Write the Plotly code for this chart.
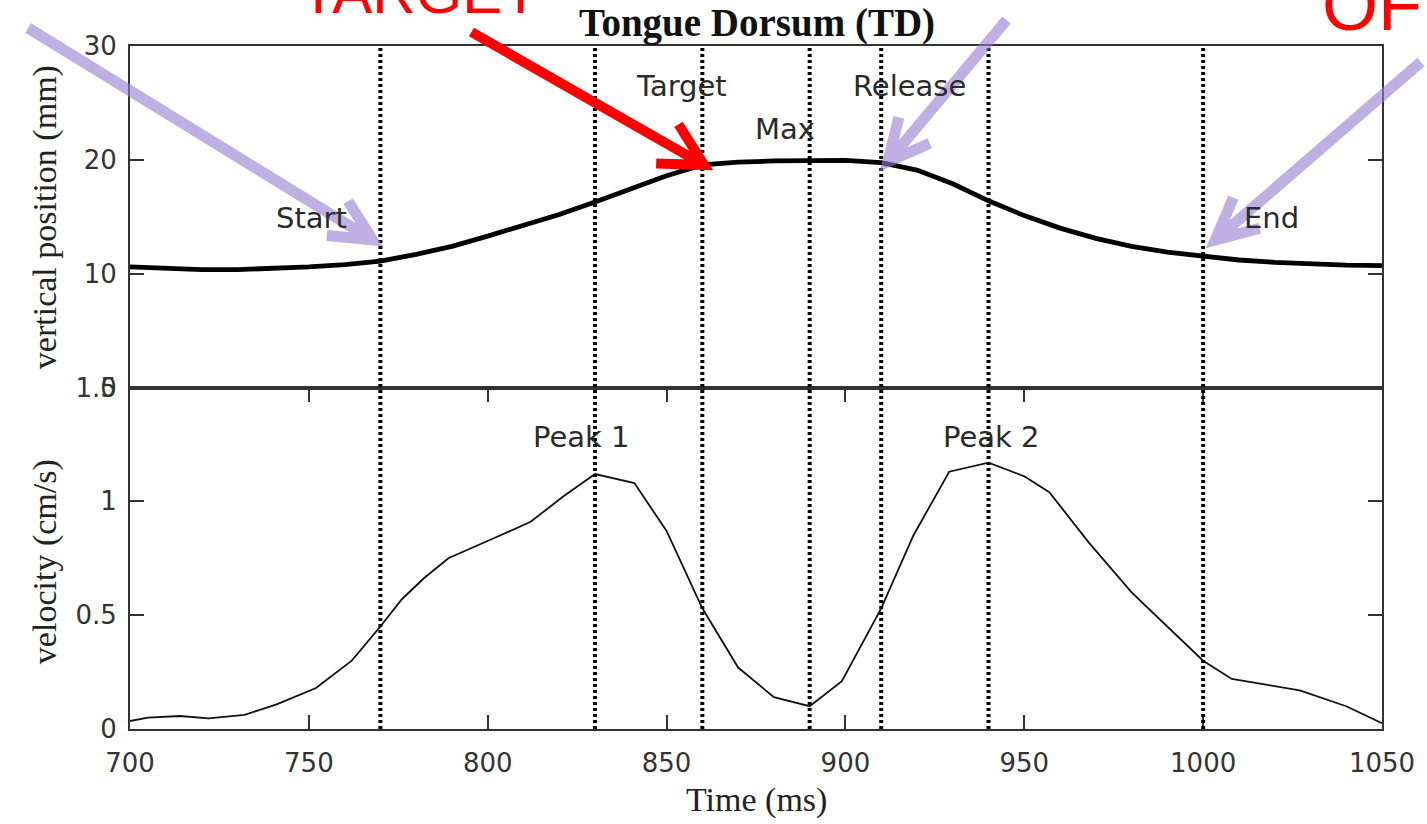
import math
import plotly.graph_objects as go
from plotly.subplots import make_subplots

# ---- data -------------------------------------------------------------
time_pos = [700, 710, 720, 730, 740, 750, 760, 770, 780, 790, 800, 810, 820,
            830, 840, 850, 860, 870, 880, 890, 900, 910, 920, 930, 940, 950,
            960, 970, 980, 990, 1000, 1010, 1020, 1030, 1040, 1050]
position_mm = [10.6, 10.45, 10.35, 10.35, 10.45, 10.6, 10.8, 11.1, 11.7, 12.4,
               13.3, 14.2, 15.2, 16.3, 17.4, 18.6, 19.55, 19.8, 19.9, 19.95,
               19.95, 19.75, 19.1, 17.9, 16.4, 15.1, 14.0, 13.1, 12.4, 11.9,
               11.5, 11.2, 11.0, 10.85, 10.75, 10.7]

time_vel = [700, 705, 714, 722, 732, 741, 752, 762, 770, 776, 782, 789, 802,
            812, 821, 830, 841, 850, 860, 870, 880, 890, 899, 910, 919, 929,
            940, 950, 957, 968, 980, 990, 1000, 1008, 1027, 1040, 1050]
velocity_cms = [0.035, 0.05, 0.057, 0.047, 0.062, 0.108, 0.18, 0.30, 0.45,
                0.57, 0.66, 0.75, 0.84, 0.91, 1.02, 1.12, 1.08, 0.87, 0.53,
                0.27, 0.14, 0.10, 0.21, 0.53, 0.85, 1.13, 1.17, 1.11, 1.04,
                0.82, 0.60, 0.45, 0.30, 0.22, 0.17, 0.10, 0.025]

event_times = [770, 830, 860, 890, 910, 940, 1000]

x_ticks = [700, 750, 800, 850, 900, 950, 1000, 1050]
pos_ticks = [0, 10, 20, 30]
vel_ticks = [0, 0.5, 1, 1.5]
vel_tick_text = ["0", "0.5", "1", "1.5"]

pos_event_labels = ["Start", "Target", "Max", "Release", "End"]
vel_event_labels = ["Peak 1", "Peak 2"]

# ---- page geometry (pixels) ------------------------------------------
W, H = 1427, 824
L, R, T, B = 130, 1384, 46, 729


def px(x):
    return (x - L) / (R - L)


def py(y):
    return (B - y) / (B - T)


def arrow_path(tail, tip, arm, spread):
    ang = math.atan2(tip[1] - tail[1], tip[0] - tail[0]) + math.pi
    pts = []
    for s in (spread, -spread):
        a = ang + math.radians(s)
        pts.append((tip[0] + arm * math.cos(a), tip[1] + arm * math.sin(a)))

    def p(pt):
        return f"{px(pt[0]):.5f},{py(pt[1]):.5f}"

    return (f"M{p(tail)} L{p(tip)} M{p(pts[0])} L{p(tip)} L{p(pts[1])}")


fig = make_subplots(rows=2, cols=1, shared_xaxes=True, vertical_spacing=0)

fig.add_trace(go.Scatter(x=time_pos, y=position_mm, mode="lines",
                         line=dict(color="#000000", width=4.8),
                         showlegend=False, hoverinfo="skip"), row=1, col=1)
fig.add_trace(go.Scatter(x=time_vel, y=velocity_cms, mode="lines",
                         line=dict(color="#111111", width=1.8),
                         showlegend=False, hoverinfo="skip"), row=2, col=1)

tick_font = dict(family="DejaVu Sans", size=26, color="#333333")
axis_common = dict(showline=True, linecolor="#333333", linewidth=2,
                   mirror=True, showgrid=False, zeroline=False,
                   tickcolor="#333333", tickwidth=2, ticklen=14,
                   tickfont=tick_font)

fig.update_xaxes(range=[700, 1050], **axis_common)
fig.update_xaxes(row=1, col=1, ticks="", showticklabels=False)
fig.update_xaxes(row=2, col=1, ticks="inside", mirror="ticks",
                 tickvals=x_ticks, ticklabelstandoff=10)
fig.update_yaxes(**axis_common)
fig.update_yaxes(row=1, col=1, range=[0, 30], tickvals=pos_ticks,
                 ticks="inside", mirror="ticks", ticklabelstandoff=6)
fig.update_yaxes(row=2, col=1, range=[0, 1.5], tickvals=vel_ticks,
                 ticktext=vel_tick_text, ticks="inside", mirror="ticks",
                 ticklabelstandoff=6)

# event markers: dotted verticals through both panels
for t in event_times:
    fig.add_shape(type="line", xref="x2", yref="paper", x0=t, x1=t, y0=0,
                  y1=1, line=dict(color="#000000", width=4,
                                  dash="3px,3px"), layer="above")

label_font = dict(family="DejaVu Sans", size=29, color="#2a2a2a")
pos_label_xy = [(750.8, 14.9), (854.3, 26.5), (883.1, 22.7), (918.0, 26.5),
                (1019.0, 14.9)]
for txt, (lx, ly) in zip(pos_event_labels, pos_label_xy):
    fig.add_annotation(x=lx, y=ly, xref="x", yref="y", text=txt,
                       showarrow=False, font=label_font)
vel_label_xy = [(826.2, 1.284), (940.9, 1.284)]
for txt, (lx, ly) in zip(vel_event_labels, vel_label_xy):
    fig.add_annotation(x=lx, y=ly, xref="x2", yref="y2", text=txt,
                       showarrow=False, font=label_font)


def paper_text(x, y, text, font, angle=0, xanchor="center",
               yanchor="middle"):
    fig.add_annotation(x=px(x), y=py(y), xref="paper", yref="paper",
                       xanchor=xanchor, yanchor=yanchor, text=text,
                       textangle=angle, showarrow=False, font=font)


# titles
serif = "Liberation Serif"
paper_text(758, 23, "<b>Tongue Dorsum (TD)</b>",
           dict(family=serif, size=39, color="#111111"))
paper_text(758, 800, "Time (ms)",
           dict(family=serif, size=34, color="#222222"))
paper_text(45, 217, "vertical position (mm)",
           dict(family=serif, size=34, color="#222222"), angle=-90)
paper_text(45, 562, "velocity (cm/s)",
           dict(family=serif, size=34, color="#222222"), angle=-90)

# red call-outs
paper_text(420, 28, "TARGET",
           dict(family="Liberation Sans", size=60, color="#ff0000"),
           yanchor="bottom")
paper_text(1322, 47, "OFFSET",
           dict(family="Liberation Sans", size=72, color="#ff0000"),
           xanchor="left", yanchor="bottom")

# pointer arrows
fig.add_shape(type="path", xref="paper", yref="paper",
              path=arrow_path((472, 32), (705, 165), 48, 28),
              line=dict(color="#ff0000", width=10), layer="above")
for tail, tip in [((28, 28), (373, 240)), ((1008, 20), (889, 162)),
                  ((1423, 62), (1217, 240))]:
    fig.add_shape(type="path", xref="paper", yref="paper",
                  path=arrow_path(tail, tip, 46, 26),
                  line=dict(color="rgb(150,125,210)", width=11),
                  opacity=0.6, layer="above")

fig.update_layout(width=W, height=H, plot_bgcolor="white",
                  paper_bgcolor="white",
                  margin=dict(l=L, r=W - R, t=T, b=H - B),
                  showlegend=False)

fig.write_html("out.html")
